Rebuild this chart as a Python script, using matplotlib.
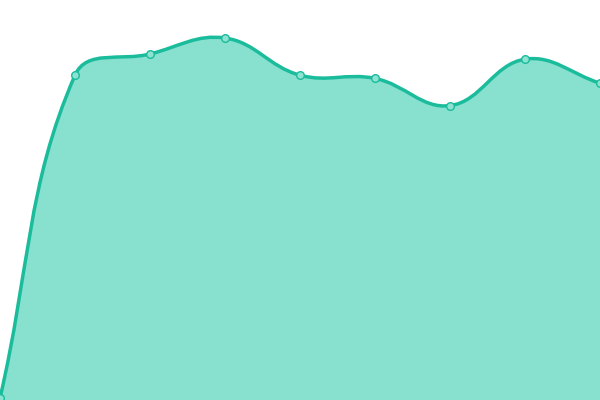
import numpy as np
import matplotlib
matplotlib.use("Agg")
import matplotlib.pyplot as plt
from matplotlib.path import Path
from matplotlib.patches import PathPatch

# data
x_vals = [0, 1, 2, 3, 4, 5, 6, 7, 8]
y_vals = [0.5, 81.2, 86.5, 90.5, 81.2, 80.4, 73.6, 85.2, 79.2]

TENSION = 0.4

fig = plt.figure(figsize=(6, 4), dpi=100)
ax = fig.add_axes([0, 0, 1, 1])
ax.set_xlim(0, 8)
ax.set_ylim(0, 100)
ax.axis("off")

# Chart.js style spline, control points computed in display space
pts = ax.transData.transform(np.column_stack([x_vals, y_vals]))
n = len(pts)
prev_cp = np.zeros_like(pts)
next_cp = np.zeros_like(pts)
for i in range(n):
    first = pts[i - 1] if i > 0 else pts[i]
    mid = pts[i]
    after = pts[i + 1] if i < n - 1 else pts[i]
    d01 = np.hypot(*(mid - first))
    d12 = np.hypot(*(after - mid))
    tot = d01 + d12
    s01 = d01 / tot if tot else 0
    s12 = d12 / tot if tot else 0
    fa = TENSION * s01
    fb = TENSION * s12
    prev_cp[i] = mid - fa * (after - first)
    next_cp[i] = mid + fb * (after - first)

inv = ax.transData.inverted()
verts = [pts[0]]
codes = [Path.MOVETO]
for i in range(n - 1):
    verts += [next_cp[i], prev_cp[i + 1], pts[i + 1]]
    codes += [Path.CURVE4] * 3
verts_d = inv.transform(np.array(verts))

line_path = Path(verts_d, codes)
fill_verts = np.vstack([verts_d, [[x_vals[-1], 0], [x_vals[0], 0], verts_d[0]]])
fill_codes = codes + [Path.LINETO, Path.LINETO, Path.CLOSEPOLY]
fill_path = Path(fill_verts, fill_codes)

ax.add_patch(PathPatch(fill_path, facecolor="#88e0cf", edgecolor="none"))
ax.add_patch(PathPatch(line_path, facecolor="none", edgecolor="#1abc9c",
                       linewidth=2.5, capstyle="round", joinstyle="round"))
ax.plot(x_vals, y_vals, linestyle="none", marker="o", markersize=5.5,
        markerfacecolor="#8de2d1", markeredgecolor="#1abc9c", markeredgewidth=1.0,
        clip_on=True)
fig.savefig("out.png", dpi=100)
